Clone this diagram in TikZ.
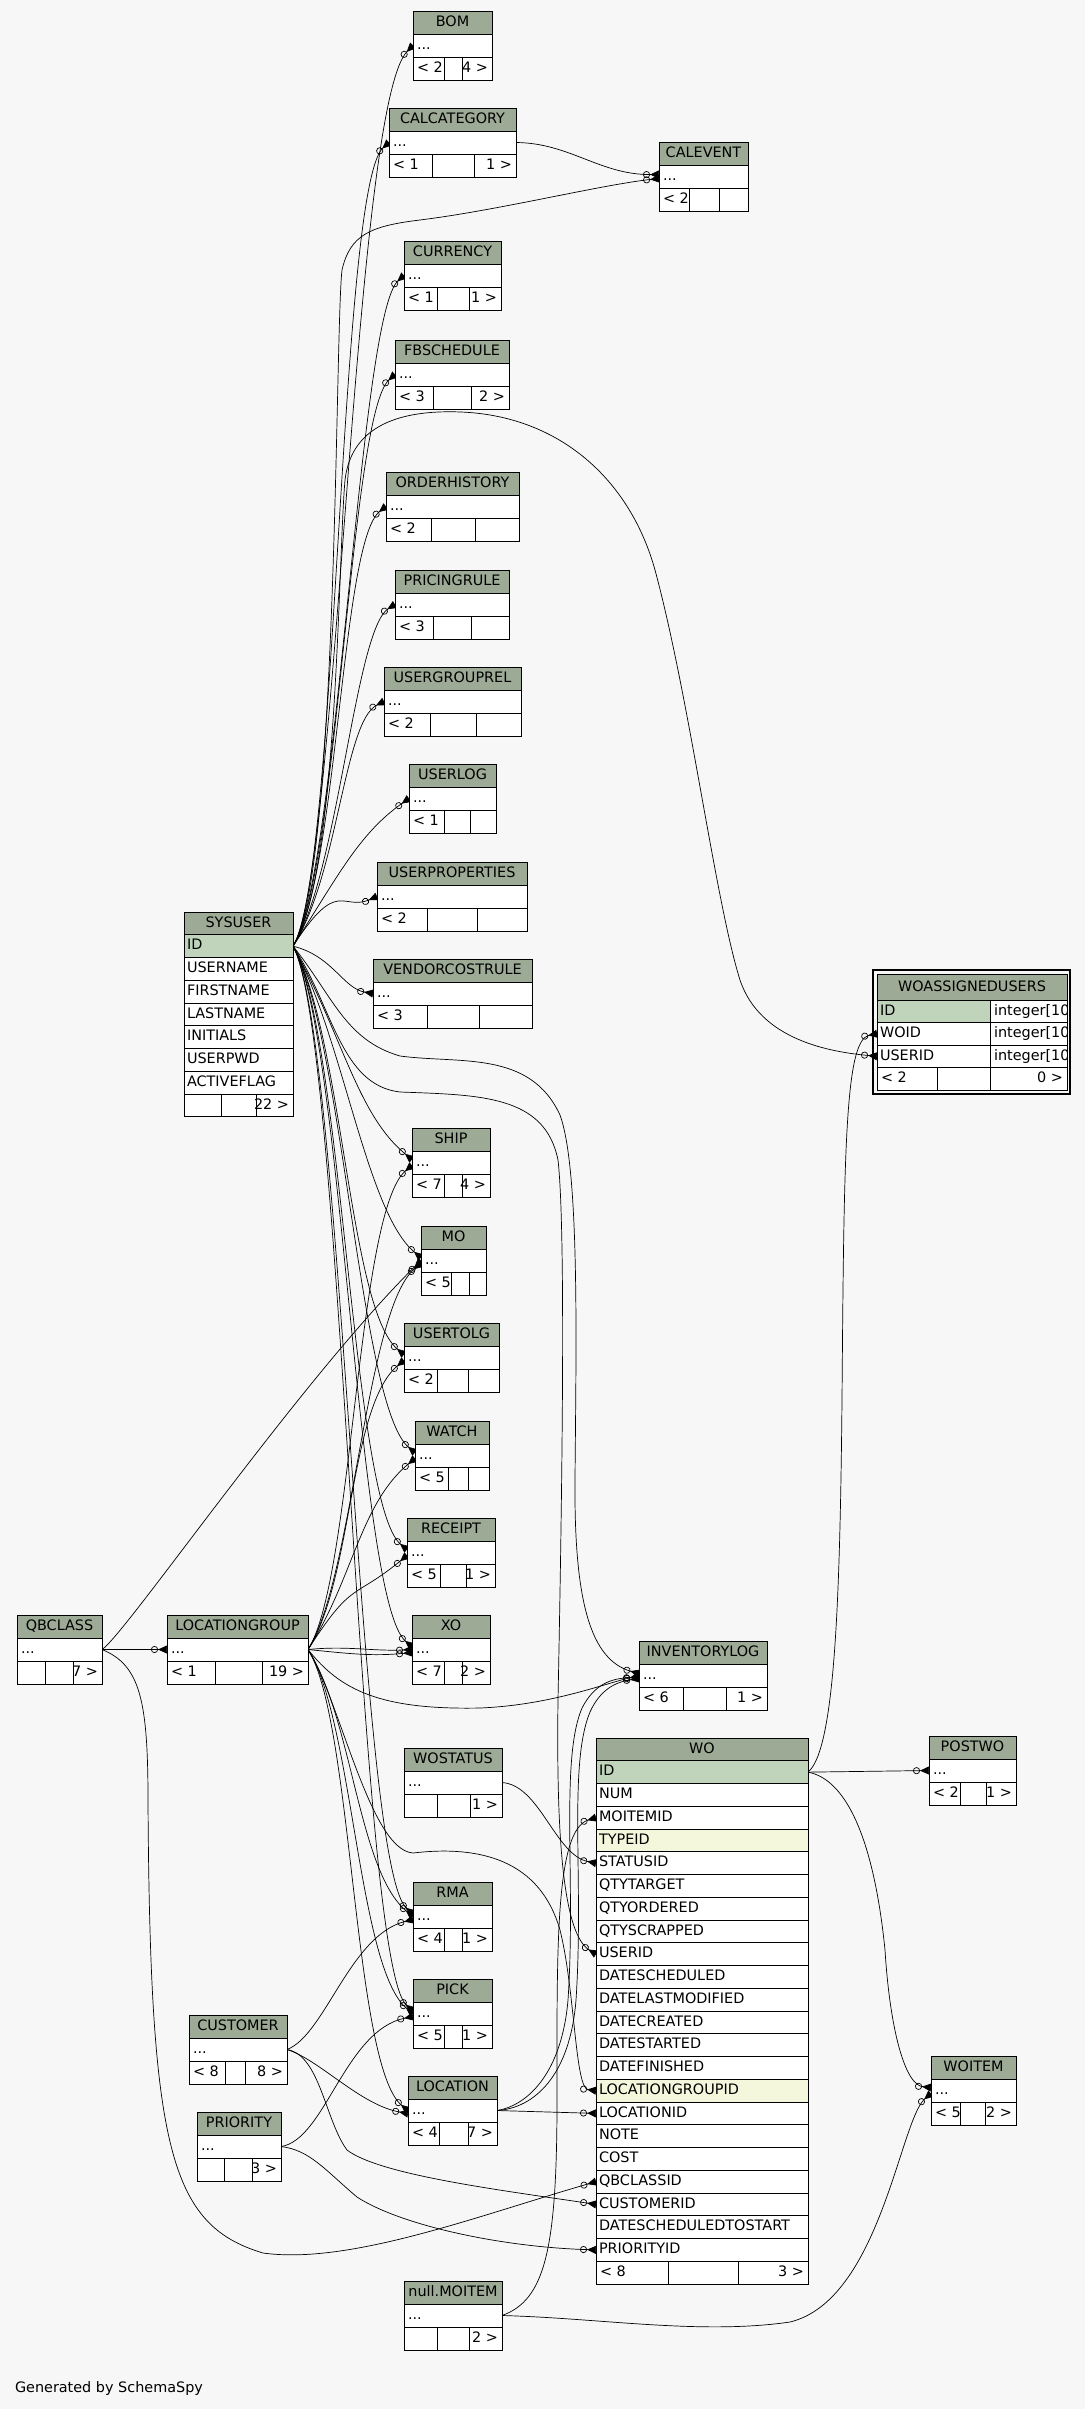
\documentclass[tikz,border=0pt]{standalone}
\usepackage{fontspec}
\newfontfamily\erfont{DejaVu Sans}
\usetikzlibrary{arrows.meta}
\definecolor{hdrfill}{RGB}{157,171,150}
\definecolor{pkfill}{RGB}{191,212,187}
\definecolor{idxfill}{RGB}{244,247,220}
\definecolor{pagebg}{RGB}{247,247,247}
\pgfdeclarelayer{back}
\pgfdeclarelayer{edges}
\pgfsetlayers{back,edges,main}
\newcommand{\tabfont}{\erfont\fontsize{14.4pt}{17pt}\selectfont}
% name, left, top, width, cell 1, cell 2, title, left count, right count
\newcommand{\dbtable}[9]{%
  \node[hdrcell, minimum width=#4pt] (#1-h) at (#2,#3) {};
  \node[txt, anchor=base] (#1-n) at ([yshift=-15pt]#1-h.north) {#7};
  \node[rowcell, minimum width=#4pt] (#1) at (#2,{#3+23}) {};
  \node[txt, anchor=base west] (#1-t) at ([xshift=4pt,yshift=-15pt]#1.north west) {...};
  \node[rowcell, minimum width=#5pt] (#1-a) at (#2,{#3+46}) {};
  \node[rowcell, minimum width=#6pt] (#1-b) at ({#2+#5},{#3+46}) {};
  \node[rowcell, minimum width=#4pt-#5pt-#6pt] (#1-c) at ({#2+#5+#6},{#3+46}) {};
  \node[txt, anchor=base west] (#1-l) at ([xshift=4pt,yshift=-15pt]#1-a.north west) {#8};
  \node[txt, anchor=base east] (#1-r) at ([xshift=-4pt,yshift=-15pt]#1-c.north east) {#9};
}
\begin{document}
\begin{tikzpicture}[x=1pt, y=-1pt,
    hdrcell/.style={draw, fill=hdrfill, line width=0.9pt, minimum height=23pt, inner sep=0pt, outer sep=0pt, anchor=north west},
    rowcell/.style={draw, fill=white, line width=0.9pt, minimum height=23pt, inner sep=0pt, outer sep=0pt, anchor=north west},
    txt/.style={font=\tabfont, inner sep=0pt, outer sep=0pt},
    fk/.style={line width=0.7pt, -{Circle[open,length=7pt,width=7pt] Triangle[reversed,length=9pt,width=8pt]}}]
  \useasboundingbox (0,0) rectangle (1085,2409);
  \begin{pgfonlayer}{back}
    \fill[pagebg] (0,0) rectangle (1085,2409);
  \end{pgfonlayer}

  \dbtable{bom}{413}{11}{79}{31}{18}{BOM}{< 2}{4 >}
  \dbtable{calcategory}{389}{108}{127}{43}{42}{CALCATEGORY}{< 1}{1 >}
  \dbtable{calevent}{659}{142}{89}{30}{30}{CALEVENT}{< 2}{}
  \dbtable{currency}{404}{241}{97}{33}{32}{CURRENCY}{< 1}{1 >}
  \dbtable{fbschedule}{395}{340}{114}{38}{38}{FBSCHEDULE}{< 3}{2 >}
  \dbtable{orderhistory}{386}{472}{133}{45}{44}{ORDERHISTORY}{< 2}{}
  \dbtable{pricingrule}{395}{570}{114}{38}{38}{PRICINGRULE}{< 3}{}
  \dbtable{usergrouprel}{384}{667}{137}{46}{46}{USERGROUPREL}{< 2}{}
  \dbtable{userlog}{409}{764}{87}{35}{26}{USERLOG}{< 1}{}
  \dbtable{userproperties}{377}{862}{150}{50}{50}{USERPROPERTIES}{< 2}{}
  \dbtable{vendorcostrule}{373}{959}{159}{54}{52}{VENDORCOSTRULE}{< 3}{}
  \dbtable{ship}{412}{1128}{78}{32}{18}{SHIP}{< 7}{4 >}
  \dbtable{mo}{421}{1226}{65}{30}{18}{MO}{< 5}{}
  \dbtable{usertolg}{404}{1323}{95}{33}{31}{USERTOLG}{< 2}{}
  \dbtable{watch}{415}{1421}{74}{33}{20}{WATCH}{< 5}{}
  \dbtable{receipt}{407}{1518}{88}{33}{26}{RECEIPT}{< 5}{1 >}
  \dbtable{xo}{412}{1615}{78}{32}{18}{XO}{< 7}{2 >}
  \dbtable{qbclass}{17}{1615}{85}{28}{28}{QBCLASS}{}{7 >}
  \dbtable{locationgroup}{167}{1615}{141}{48}{47}{LOCATIONGROUP}{< 1}{19 >}
  \dbtable{inventorylog}{639}{1641}{128}{44}{43}{INVENTORYLOG}{< 6}{1 >}
  \dbtable{wostatus}{404}{1748}{98}{33}{33}{WOSTATUS}{}{1 >}
  \dbtable{postwo}{929}{1736}{87}{31}{26}{POSTWO}{< 2}{1 >}
  \dbtable{rma}{413}{1882}{79}{31}{18}{RMA}{< 4}{1 >}
  \dbtable{pick}{413}{1979}{79}{31}{18}{PICK}{< 5}{1 >}
  \dbtable{customer}{189}{2015}{98}{36}{20}{CUSTOMER}{< 8}{8 >}
  \dbtable{woitem}{931}{2056}{85}{29}{25}{WOITEM}{< 5}{2 >}
  \dbtable{location}{408}{2076}{89}{31}{29}{LOCATION}{< 4}{7 >}
  \dbtable{priority}{197}{2112}{84}{27}{28}{PRIORITY}{}{3 >}
  \dbtable{nullmoitem}{404}{2281}{98}{33}{32}{null.MOITEM}{}{2 >}

  \node[hdrcell, minimum width=109pt, minimum height=22.75pt] (sysuser-h) at (184,912) {};
  \node[txt, anchor=base] (sysuser-n) at ([yshift=-15pt]sysuser-h.north) {SYSUSER};
  \foreach \colname/\rowfill [count=\i] in {ID/pkfill,USERNAME/white,FIRSTNAME/white,LASTNAME/white,INITIALS/white,USERPWD/white,ACTIVEFLAG/white} {
    \node[rowcell, fill=\rowfill, minimum width=109pt, minimum height=22.75pt] (sysuser-\colname) at (184,{912+22.75*\i}) {};
    \node[txt, anchor=base west] (sysuser-\colname-t) at ([xshift=3pt,yshift=-15pt]sysuser-\colname.north west) {\colname};
  }
  \node[rowcell, minimum width=37pt, minimum height=22.75pt] (sysuser-a) at (184,1094) {};
  \node[rowcell, minimum width=35pt, minimum height=22.75pt] (sysuser-b) at (221,1094) {};
  \node[rowcell, minimum width=37pt, minimum height=22.75pt] (sysuser-c) at (256,1094) {};
  \node[txt, anchor=base east] (sysuser-r) at ([xshift=-4pt,yshift=-15pt]sysuser-c.north east) {22 >};

  \node[hdrcell, minimum width=212pt, minimum height=22.75pt] (wo-h) at (596,1738) {};
  \node[txt, anchor=base] (wo-n) at ([yshift=-15pt]wo-h.north) {WO};
  \foreach \colname/\rowfill [count=\i] in {ID/pkfill,NUM/white,MOITEMID/white,TYPEID/idxfill,STATUSID/white,QTYTARGET/white,QTYORDERED/white,QTYSCRAPPED/white,USERID/white,DATESCHEDULED/white,DATELASTMODIFIED/white,DATECREATED/white,DATESTARTED/white,DATEFINISHED/white,LOCATIONGROUPID/idxfill,LOCATIONID/white,NOTE/white,COST/white,QBCLASSID/white,CUSTOMERID/white,DATESCHEDULEDTOSTART/white,PRIORITYID/white} {
    \node[rowcell, fill=\rowfill, minimum width=212pt, minimum height=22.75pt] (wo-\colname) at (596,{1738+22.75*\i}) {};
    \node[txt, anchor=base west] (wo-\colname-t) at ([xshift=3pt,yshift=-15pt]wo-\colname.north west) {\colname};
  }
  \node[rowcell, minimum width=72pt, minimum height=22.75pt] (wo-a) at (596,2261.25) {};
  \node[rowcell, minimum width=70pt, minimum height=22.75pt] (wo-b) at (668,2261.25) {};
  \node[rowcell, minimum width=70pt, minimum height=22.75pt] (wo-c) at (738,2261.25) {};
  \node[txt, anchor=base west] (wo-l) at ([xshift=4pt,yshift=-15pt]wo-a.north west) {< 8};
  \node[txt, anchor=base east] (wo-r) at ([xshift=-4pt,yshift=-15pt]wo-c.north east) {3 >};

  \draw[line width=1.6pt] (873,970) rectangle (1070,1094);
  \node[hdrcell, minimum width=190pt, minimum height=26pt] (wau-h) at (877,974) {};
  \node[txt, anchor=base] (wau-n) at ([yshift=-17pt]wau-h.north) {WOASSIGNEDUSERS};
  \foreach \colname/\rowfill [count=\i from 0] in {ID/pkfill,WOID/white,USERID/white} {
    \node[rowcell, fill=\rowfill, minimum width=113pt, minimum height=22.5pt] (wau-\colname) at (877,{1000+22.5*\i}) {};
    \node[rowcell, minimum width=77pt, minimum height=22.5pt] (wau-\colname-type) at (990,{1000+22.5*\i}) {};
    \node[txt, anchor=base west] (wau-\colname-t) at ([xshift=3pt,yshift=-15pt]wau-\colname.north west) {\colname};
    \begin{scope}
      \clip (990,{1000+22.5*\i}) rectangle (1066,{1022.5+22.5*\i});
      \node[txt, anchor=base west] (wau-\colname-ty) at ([xshift=4pt,yshift=-15pt]wau-\colname-type.north west) {integer[10]};
    \end{scope}
  }
  \node[rowcell, minimum width=60pt, minimum height=22.5pt] (wau-a) at (877,1067.5) {};
  \node[rowcell, minimum width=53pt, minimum height=22.5pt] (wau-b) at (937,1067.5) {};
  \node[rowcell, minimum width=77pt, minimum height=22.5pt] (wau-c) at (990,1067.5) {};
  \node[txt, anchor=base west] (wau-l) at ([xshift=4pt,yshift=-15pt]wau-a.north west) {< 2};
  \node[txt, anchor=base east] (wau-r) at ([xshift=-4pt,yshift=-15pt]wau-c.north east) {0 >};

  \node[txt, anchor=base west] (credit) at (15,2392) {Generated by SchemaSpy};

  \begin{pgfonlayer}{edges}
    \foreach \t/\dx/\dy in {bom/-60/60, calcategory/-50/45, currency/-45/40, fbschedule/-45/40, orderhistory/-45/35, pricingrule/-40/25, usergrouprel/-40/20, userlog/-50/35, userproperties/-35/15}
      \draw[fk] (sysuser-ID.east) .. controls +(45,-70) and +(\dx,\dy) .. (\t.west);
    \draw[fk] (sysuser-ID.east) .. controls +(40,10) and +(-30,-5) .. (vendorcostrule.west);
    \draw[fk] (sysuser-ID.east) .. controls +(45,-70) and (335,330) .. (342,270) .. controls (350,235) and (370,226) .. (420,220) .. controls (500,210) and (600,185) .. ([yshift=-2pt]calevent.west);
    \draw[fk] (calcategory.east) .. controls (570,143) and (600,175) .. ([yshift=2pt]calevent.west);
    \draw[fk] (sysuser-ID.east) .. controls +(45,-70) and (338,560) .. (345,480) .. controls (352,420) and (410,410) .. (461,412) .. controls (560,416) and (630,480) .. (655,570) .. controls (690,700) and (715,900) .. (740,980) .. controls (760,1040) and (830,1052) .. (wau-USERID.west);
    \draw[fk] (wo-ID.east) .. controls (835,1750) and (840,1600) .. (842,1400) .. controls (844,1150) and (845,1040) .. (wau-WOID.west);
    \foreach \t in {ship,mo,usertolg,watch,receipt,xo,rma,pick}
      \draw[fk] (sysuser-ID.east) .. controls +(50,90) and +(-55,-45) .. ([yshift=3pt]\t.west);
    \foreach \t in {ship,mo,usertolg,watch,receipt}
      \draw[fk] (locationgroup.east) .. controls +(45,-70) and +(-55,45) .. ([yshift=-3pt]\t.west);
    \draw[fk] (locationgroup.east) .. controls +(40,-4) and +(-40,2) .. (xo.west);
    \draw[fk] (locationgroup.east) .. controls +(40,4) and +(-40,4) .. ([yshift=-3pt]xo.west);
    \foreach \t in {rma,pick,location}
      \draw[fk] (locationgroup.east) .. controls +(45,70) and +(-55,-45) .. (\t.west);
    \draw[fk] (qbclass.east) -- (locationgroup.west);
    \draw[fk] (qbclass.east) .. controls (125,1635) and (300,1380) .. (mo.west);
    \draw[fk] (qbclass.east) .. controls (140,1665) and (148,1700) .. (148,1800) .. controls (150,2150) and (170,2225) .. (263,2253) .. controls (350,2265) and (480,2215) .. (wo-QBCLASSID.west);
    \draw[fk] (sysuser-ID.east) .. controls +(40,50) and (345,1040) .. (400,1056) .. controls (460,1064) and (530,1050) .. (560,1115) .. controls (580,1170) and (576,1350) .. (575,1480) .. controls (574,1600) and (590,1660) .. ([yshift=2pt]inventorylog.west);
    \draw[fk] (sysuser-ID.east) .. controls +(40,60) and (340,1085) .. (400,1092) .. controls (480,1095) and (545,1095) .. (558,1160) .. controls (566,1230) and (562,1500) .. (558,1700) .. controls (556,1850) and (565,1935) .. (wo-USERID.west);
    \draw[fk] (locationgroup.east) .. controls (340,1690) and (380,1710) .. (480,1708) .. controls (550,1705) and (600,1685) .. (inventorylog.west);
    \draw[fk] (location.east) .. controls (530,2105) and (562,2070) .. (568,2000) .. controls (576,1880) and (560,1760) .. (582,1708) .. controls (594,1685) and (610,1678) .. ([yshift=-2pt]inventorylog.west);
    \draw[fk] (location.east) .. controls (535,2108) and (570,2075) .. (576,2000) .. controls (584,1880) and (568,1765) .. (590,1712) .. controls (600,1690) and (615,1682) .. ([yshift=-3pt]inventorylog.west);
    \draw[fk] (locationgroup.east) .. controls (340,1700) and (370,1850) .. (413,1853) .. controls (480,1845) and (540,1860) .. (560,1930) .. controls (575,1990) and (575,2088) .. (wo-LOCATIONGROUPID.west);
    \draw[fk] (location.east) -- (wo-LOCATIONID.west);
    \draw[fk] (wostatus.east) .. controls (540,1785) and (555,1855) .. (wo-STATUSID.west);
    \draw[fk] (nullmoitem.east) .. controls (545,2300) and (557,2250) .. (557,2100) .. controls (557,1950) and (555,1830) .. (wo-MOITEMID.west);
    \draw[fk] (nullmoitem.east) .. controls (600,2318) and (700,2335) .. (790,2322) .. controls (880,2300) and (900,2120) .. ([yshift=-3pt]woitem.west);
    \draw[fk] (wo-ID.east) .. controls (850,1780) and (875,1850) .. (885,1950) .. controls (890,2030) and (905,2085) .. ([yshift=3pt]woitem.west);
    \draw[fk] (wo-ID.east) -- (postwo.west);
    \draw[fk] (customer.east) .. controls (325,2035) and (350,1935) .. ([yshift=-3pt]rma.west);
    \draw[fk] (customer.east) .. controls (320,2060) and (360,2105) .. ([yshift=-3pt]location.west);
    \draw[fk] (customer.east) .. controls (320,2055) and (325,2120) .. (347,2150) .. controls (380,2175) and (500,2190) .. (wo-CUSTOMERID.west);
    \draw[fk] (priority.east) .. controls (325,2140) and (345,2030) .. ([yshift=-3pt]pick.west);
    \draw[fk] (priority.east) .. controls (310,2150) and (325,2170) .. (357,2197) .. controls (400,2225) and (500,2247) .. (wo-PRIORITYID.west);
  \end{pgfonlayer}
\end{tikzpicture}
\end{document}
